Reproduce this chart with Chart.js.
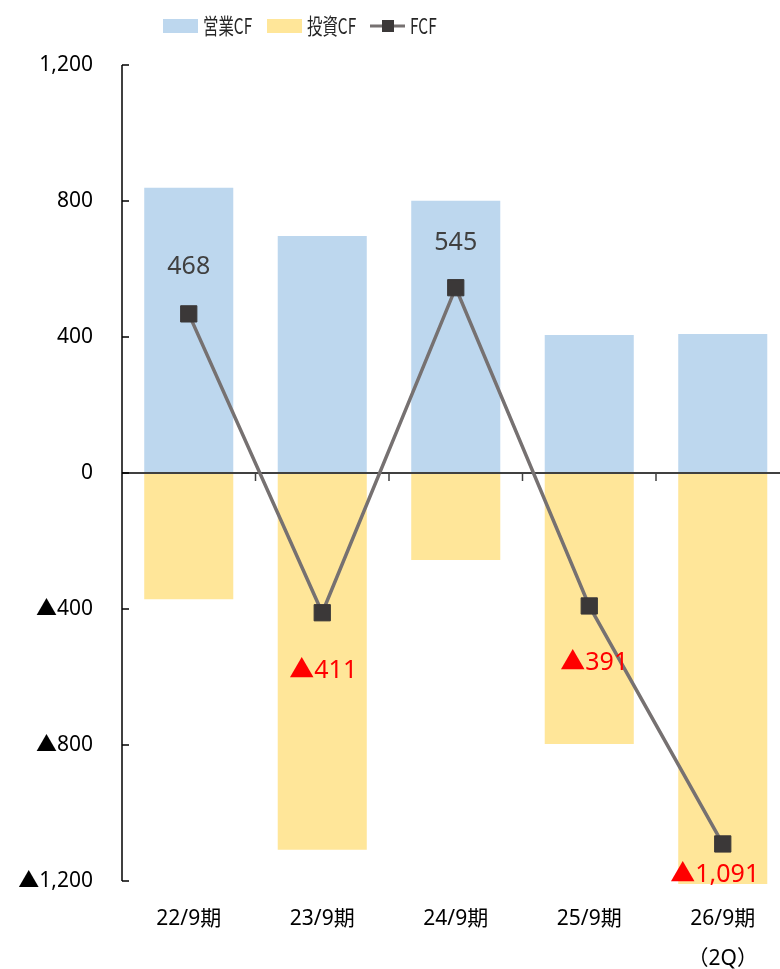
<!DOCTYPE html>
<html>
<head>
<meta charset="utf-8">
<script src="https://cdn.jsdelivr.net/npm/chart.js@4"></script>
<style>
  html, body { margin: 0; padding: 0; background: #fff; overflow: hidden; width: 780px; height: 969px; }
  canvas { display: block; }
</style>
</head>
<body>
<canvas id="cf" width="802" height="969"></canvas>
<script>
// Fiscal periods
const periods = ['22/9期', '23/9期', '24/9期', '25/9期', ['26/9期', '（2Q）']];
// Operating cash flow (百万円)
const operatingCF = [839, 697, 801, 406, 409];
// Investing cash flow
const investingCF = [-371, -1108, -256, -797, -1500];
// Free cash flow
const freeCF = [468, -411, 545, -391, -1091];
// Value axis ticks
const yTicks = [-1200, -800, -400, 0, 400, 800, 1200];

const FONT = '"Noto Sans", "Noto Sans CJK JP", sans-serif';
const CJK = '"Noto Sans CJK JP", "Noto Sans", sans-serif';
const BLUE = '#BDD7EE', YELLOW = '#FFE699', LINE = '#767171', MARK = '#3B3838';

function fmt(v) {
  const s = Math.abs(v).toLocaleString('en-US');
  return v < 0 ? '▲' + s : s;
}

// Zero line, inward ticks on the value axis, and category dividers at zero
const axisDecor = {
  id: 'axisDecor',
  beforeDatasetDraw(chart, args) {
    if (args.index !== 2) return;
    const { ctx, chartArea, scales: { x, y } } = chart;
    const y0 = y.getPixelForValue(0);
    ctx.save();
    ctx.strokeStyle = '#404040';
    ctx.lineWidth = 2;
    ctx.beginPath();
    ctx.moveTo(chartArea.left, y0);
    ctx.lineTo(chartArea.right + 2, y0);
    ctx.stroke();
    ctx.lineWidth = 1.5;
    const n = chart.data.labels.length;
    for (let i = 0; i < n - 1; i++) {
      const px = (x.getPixelForValue(i) + x.getPixelForValue(i + 1)) / 2;
      ctx.beginPath();
      ctx.moveTo(px, y0);
      ctx.lineTo(px, y0 + 8);
      ctx.stroke();
    }
    ctx.restore();
  },
  afterDraw(chart) {
    const { ctx, chartArea, scales: { y } } = chart;
    ctx.save();
    ctx.strokeStyle = '#000';
    ctx.lineWidth = 1.5;
    ctx.beginPath();
    ctx.moveTo(chartArea.left, chartArea.top);
    ctx.lineTo(chartArea.left, chartArea.bottom);
    ctx.stroke();
    yTicks.forEach(v => {
      const py = y.getPixelForValue(v);
      ctx.beginPath();
      ctx.moveTo(chartArea.left, py);
      ctx.lineTo(chartArea.left + 7, py);
      ctx.stroke();
    });
    ctx.restore();
  }
};

// FCF value labels
const fcfLabels = {
  id: 'fcfLabels',
  afterDatasetsDraw(chart, args, opts) {
    const { ctx } = chart;
    const meta = chart.getDatasetMeta(2);
    ctx.save();
    ctx.font = '25px ' + FONT;
    ctx.textAlign = 'center';
    ctx.textBaseline = 'middle';
    meta.data.forEach((pt, i) => {
      const v = freeCF[i];
      const off = opts.offsets[i];
      ctx.fillStyle = v < 0 ? '#FF0000' : '#404040';
      ctx.fillText(fmt(v), pt.x + off[0], pt.y + off[1]);
    });
    ctx.restore();
  }
};

// Legend across the top (narrow lettering)
const topLegend = {
  id: 'topLegend',
  afterDraw(chart) {
    const { ctx } = chart;
    const cy = 26;
    const sx = 0.7;
    ctx.save();
    ctx.fillStyle = BLUE;
    ctx.fillRect(163, cy - 7, 35, 14);
    ctx.fillStyle = YELLOW;
    ctx.fillRect(267, cy - 7, 35, 14);
    ctx.strokeStyle = LINE;
    ctx.lineWidth = 3;
    ctx.beginPath();
    ctx.moveTo(370, cy);
    ctx.lineTo(405, cy);
    ctx.stroke();
    ctx.fillStyle = MARK;
    ctx.fillRect(382, cy - 6, 12, 12);

    ctx.font = '22px ' + CJK;
    ctx.textBaseline = 'middle';
    ctx.textAlign = 'left';
    ctx.fillStyle = '#262626';
    [['営業CF', 203], ['投資CF', 307], ['FCF', 410]].forEach(([t, px]) => {
      ctx.save();
      ctx.translate(px, cy);
      ctx.scale(sx, 1);
      ctx.fillText(t, 0, 0);
      ctx.restore();
    });
    ctx.restore();
  }
};

new Chart(document.getElementById('cf'), {
  data: {
    labels: periods,
    datasets: [
      { type: 'bar', label: '営業CF', data: operatingCF, backgroundColor: BLUE,
        barPercentage: 0.667, categoryPercentage: 1, order: 2 },
      { type: 'bar', label: '投資CF', data: investingCF, backgroundColor: YELLOW,
        barPercentage: 0.667, categoryPercentage: 1, order: 2, clip: { left: 0, top: 0, right: 0, bottom: 3 } },
      { type: 'line', label: 'FCF', data: freeCF, borderColor: LINE, borderWidth: 3.5,
        pointStyle: 'rect', pointRadius: 11.5, pointBackgroundColor: MARK, pointBorderColor: MARK,
        pointBorderWidth: 1, tension: 0, order: 0, clip: false }
    ]
  },
  options: {
    responsive: false,
    animation: false,
    layout: { padding: { top: 65, right: 1, left: 0, bottom: 0 } },
    plugins: {
      legend: { display: false },
      tooltip: { enabled: false },
      fcfLabels: { offsets: [[0, -47], [1, 58], [0, -45], [5, 57], [-8, 31]] }
    },
    scales: {
      x: {
        stacked: true,
        grid: { display: false, drawTicks: false },
        border: { display: false },
        afterFit(s) { s.height = 88; },
        ticks: { padding: 18, color: '#000', font: { family: FONT, size: 21, lineHeight: 1.9 }, maxRotation: 0, autoSkip: false }
      },
      y: {
        min: -1200, max: 1200,
        afterBuildTicks(s) { s.ticks = yTicks.map(v => ({ value: v })); },
        afterFit(s) { s.width = 122; },
        grid: { display: false, drawTicks: false },
        border: { display: false },
        ticks: { padding: 29, color: '#000', font: { family: FONT, size: 21 }, callback: v => fmt(v) }
      }
    }
  },
  plugins: [axisDecor, fcfLabels, topLegend]
});
</script>
</body>
</html>
